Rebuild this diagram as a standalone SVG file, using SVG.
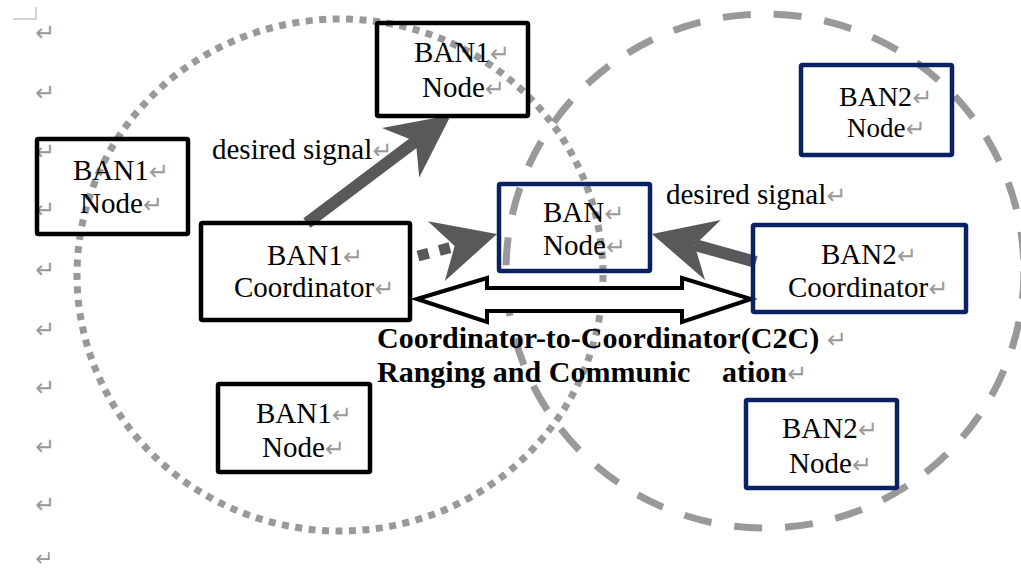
<svg xmlns="http://www.w3.org/2000/svg" xmlns:xlink="http://www.w3.org/1999/xlink" width="1021" height="572" viewBox="0 0 1021 572">
<style>
.t{font-family:"Liberation Serif","Times New Roman",serif;font-size:29px;fill:#000}
.b{font-family:"Liberation Serif","Times New Roman",serif;font-size:30px;font-weight:bold;fill:#000}
.pm{font-family:"DejaVu Sans",sans-serif;font-size:24px;fill:#9a9a9a;font-weight:normal}
.box1{fill:none;stroke:#000;stroke-width:4.5}
.box2{fill:none;stroke:#0a2163;stroke-width:4.5}
.sh{stroke:#595959;stroke-width:12;fill:none}
.hd{fill:#595959}
</style>
<defs>
<path id="head" d="M0,0 L-63,-31 L-44,0 L-63,31 Z"/>
</defs>
<rect width="1021" height="572" fill="#fff"/>
<g id="margin">
<path d="M13,19 H36 V7" fill="none" stroke="#aaa" stroke-width="1"/>
<text class="pm" x="35" y="41">↵</text>
<text class="pm" x="35" y="101">↵</text>
<text class="pm" x="35" y="160">↵</text>
<text class="pm" x="35" y="218">↵</text>
<text class="pm" x="35" y="278">↵</text>
<text class="pm" x="35" y="338">↵</text>
<text class="pm" x="35" y="396">↵</text>
<text class="pm" x="35" y="455">↵</text>
<text class="pm" x="35" y="513">↵</text>
<text class="pm" x="35" y="566" style="font-size:22px">↵</text>
</g>
<g id="ranges">
<ellipse cx="340" cy="275" rx="263" ry="256" fill="none" stroke="#999" stroke-width="7" stroke-dasharray="7 6.5"/>
<ellipse cx="765" cy="271" rx="259" ry="257" fill="none" stroke="#999" stroke-width="7" stroke-dasharray="28 23"/>
</g>
<g id="connectors">
<line class="sh" x1="307" y1="223" x2="416" y2="141"/>
<use xlink:href="#head" class="hd" transform="translate(451,115) rotate(-36.9)"/>
<line x1="418" y1="256" x2="468" y2="243" stroke="#595959" stroke-width="11" stroke-dasharray="11 11"/>
<use xlink:href="#head" class="hd" transform="translate(497,234) rotate(-15.8)"/>
<line class="sh" x1="756" y1="262" x2="695" y2="245"/>
<use xlink:href="#head" class="hd" transform="translate(652,234) rotate(194.7)"/>
<polygon points="417,299 487,278 487,288 682,288 682,278 751,299 682,322 682,311 487,311 487,322" fill="#fff" stroke="#000" stroke-width="4"/>
</g>
<g id="labels">
<text class="t" x="212" y="159">desired signal<tspan class="pm">↵</tspan></text>
<text class="t" x="666" y="204">desired signal<tspan class="pm">↵</tspan></text>
<text class="b" x="377" y="348">Coordinator-to-Coordinator(C2C) <tspan class="pm">↵</tspan></text>
<text class="b" x="377" y="382">Ranging and Communic</text>
<text class="b" x="722" y="382">ation<tspan class="pm">↵</tspan></text>
</g>
<g id="ban1-node-top">
<rect class="box1" x="377" y="23" width="151" height="93" rx="1.5"/>
<text class="t" x="414" y="62">BAN1<tspan class="pm">↵</tspan></text>
<text class="t" x="422" y="97">Node<tspan class="pm">↵</tspan></text>
</g>
<g id="ban1-node-left">
<rect class="box1" x="37" y="139" width="151" height="95" rx="1.5"/>
<text class="t" x="73" y="180">BAN1<tspan class="pm">↵</tspan></text>
<text class="t" x="80" y="213">Node<tspan class="pm">↵</tspan></text>
</g>
<g id="ban1-coordinator">
<rect class="box1" x="201" y="223" width="209" height="97" rx="1.5"/>
<text class="t" x="267" y="265">BAN1<tspan class="pm">↵</tspan></text>
<text class="t" x="234" y="297">Coordinator<tspan class="pm">↵</tspan></text>
</g>
<g id="ban1-node-bottom">
<rect class="box1" x="218" y="384" width="152" height="88" rx="1.5"/>
<text class="t" x="256" y="423">BAN1<tspan class="pm">↵</tspan></text>
<text class="t" x="262" y="457">Node<tspan class="pm">↵</tspan></text>
</g>
<g id="ban-node-center">
<rect class="box2" x="499" y="184" width="151" height="87" rx="1.5"/>
<text class="t" x="543" y="222">BAN<tspan class="pm">↵</tspan></text>
<text class="t" x="543" y="255">Node<tspan class="pm">↵</tspan></text>
</g>
<g id="ban2-node-top">
<rect class="box2" x="801" y="65" width="151" height="90" rx="1.5"/>
<text class="t" x="839" y="106" style="font-size:28px">BAN2<tspan class="pm">↵</tspan></text>
<text class="t" x="847" y="137" style="font-size:27px">Node<tspan class="pm">↵</tspan></text>
</g>
<g id="ban2-coordinator">
<rect class="box2" x="753" y="225" width="213" height="87" rx="1.5"/>
<text class="t" x="821" y="264">BAN2<tspan class="pm">↵</tspan></text>
<text class="t" x="788" y="297">Coordinator<tspan class="pm">↵</tspan></text>
</g>
<g id="ban2-node-bottom">
<rect class="box2" x="746" y="400" width="151" height="88" rx="1.5"/>
<text class="t" x="782" y="438">BAN2<tspan class="pm">↵</tspan></text>
<text class="t" x="789" y="473">Node<tspan class="pm">↵</tspan></text>
</g>
</svg>
